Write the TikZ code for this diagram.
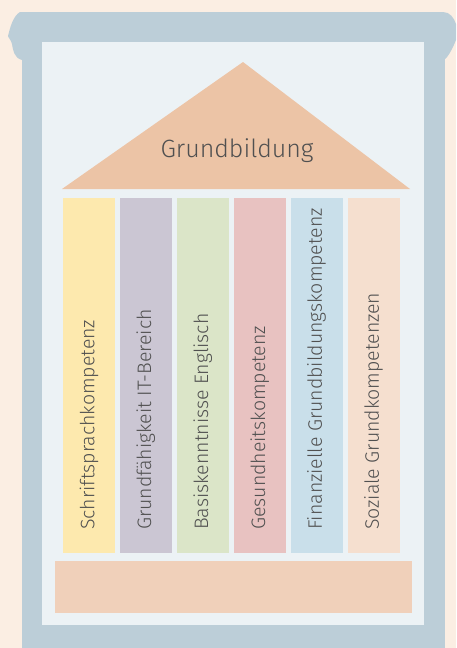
\documentclass[tikz,border=0pt]{standalone}
\usepackage{fontspec}
\newfontfamily\handfont{Fira Sans Light}
\definecolor{bgpeach}{HTML}{FBEEE3}
\definecolor{framegray}{HTML}{BCCED8}
\definecolor{panelgray}{HTML}{ECF2F5}
\definecolor{roofpeach}{HTML}{ECC4A6}
\definecolor{basepeach}{HTML}{F0D0BA}
\definecolor{textgray}{HTML}{505050}
\definecolor{colyellow}{HTML}{FDE9AE}
\definecolor{colviolet}{HTML}{CBC6D3}
\definecolor{colgreen}{HTML}{DBE5C8}
\definecolor{colrose}{HTML}{E8C2C1}
\definecolor{colblue}{HTML}{C9DFEA}
\definecolor{colsand}{HTML}{F5DFCF}
\tikzset{
  pillar/.style={fill=#1},
  pillartext/.style={rotate=90, anchor=west, inner sep=0pt, text=textgray, font=\handfont\fontsize{19.5}{19.5}\selectfont}
}
\begin{document}
\begin{tikzpicture}[x=1pt,y=-1pt]
\fill[bgpeach] (0,0) rectangle (456,648);
\useasboundingbox (0,0) rectangle (456,648);
% frame with rolled top
\fill[framegray] (22,30) rectangle (445,648);
\fill[framegray] (22,60) .. controls (14,58) and (13,50) .. (12,44)
  .. controls (11,40) and (8,37) .. (8,36)
  .. controls (10,28) and (13,16) .. (20,12) -- (443,12)
  .. controls (450,12) and (454,18) .. (456,24)
  -- (456,40) .. controls (452,50) and (448,57) .. (444,60) -- cycle;
\fill[panelgray] (42,42) rectangle (424,625);
% roof
\fill[roofpeach] (243,62) -- (410,189) -- (62,189) -- cycle;
\node[text=textgray, font=\handfont\fontsize{25}{25}\selectfont] (roof) at (237,151) {Grundbildung};
% pillars
\foreach \i/\c/\t in {0/colyellow/Schriftsprachkompetenz,
                      1/colviolet/Grundfähigkeit IT-Bereich,
                      2/colgreen/Basiskenntnisse Englisch,
                      3/colrose/Gesundheitskompetenz,
                      4/colblue/Finanzielle Grundbildungskompetenz,
                      5/colsand/Soziale Grundkompetenzen} {
  \fill[pillar=\c] (63+56.9*\i,198) rectangle (115+56.9*\i,553);
  \node[pillartext] (p\i) at (89+56.9*\i,530) {\t};
}
% base
\fill[basepeach] (55,561) rectangle (412,613);
\end{tikzpicture}
\end{document}
